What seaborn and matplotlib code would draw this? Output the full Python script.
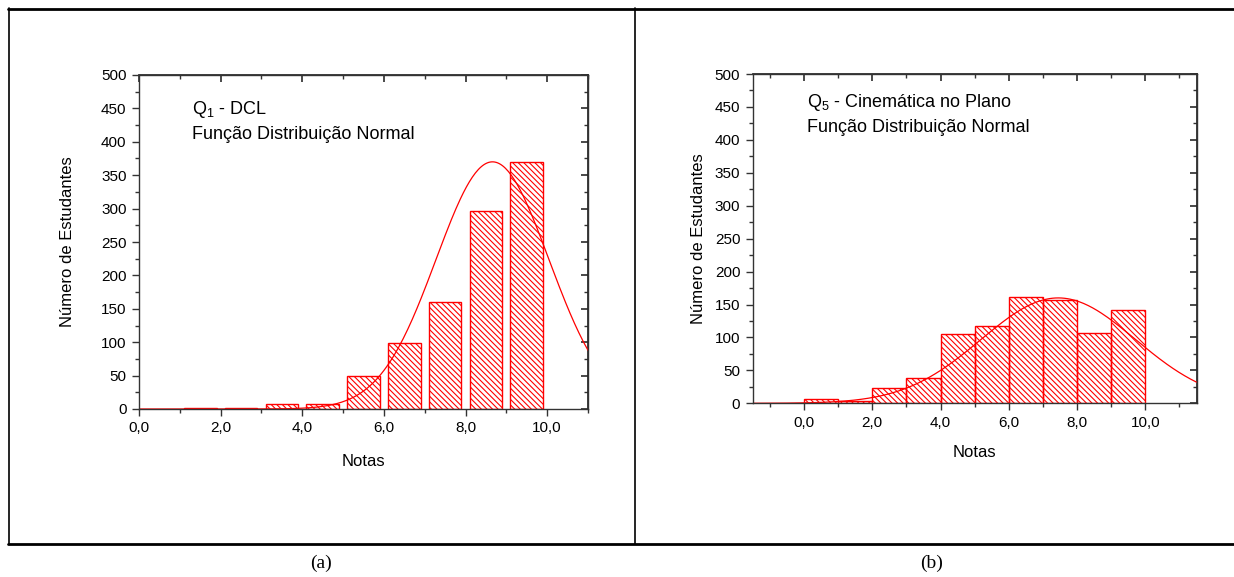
import numpy as np
import matplotlib
matplotlib.use("Agg")
import matplotlib.pyplot as plt
import seaborn as sns
from matplotlib.lines import Line2D
from matplotlib.ticker import MultipleLocator, FuncFormatter

# Estilo
sns.set_theme(style="white")
plt.rcParams['font.family'] = ['Liberation Sans', 'DejaVu Sans']
plt.rcParams['mathtext.fontset'] = 'custom'
plt.rcParams['mathtext.rm'] = 'Liberation Sans'
plt.rcParams['hatch.linewidth'] = 0.8
plt.rcParams['text.color'] = 'black'
plt.rcParams['axes.labelcolor'] = 'black'
plt.rcParams['xtick.color'] = 'black'
plt.rcParams['ytick.color'] = 'black'

# Dados (a) Q1 - DCL
notas_q1 = [1.5, 2.5, 3.5, 4.5, 5.5, 6.5, 7.5, 8.5, 9.5]
alunos_q1 = [1, 1, 7, 7, 49, 99, 160, 296, 370]
bins_q1 = [1, 2, 3, 4, 5, 6, 7, 8, 9, 10]
normal_q1 = {'media': 8.66, 'desvio': 1.38, 'pico': 370}

# Dados (b) Q5 - Cinemática no Plano
notas_q5 = [0.5, 1.5, 2.5, 3.5, 4.5, 5.5, 6.5, 7.5, 8.5, 9.5]
alunos_q5 = [6, 4, 23, 39, 105, 118, 161, 157, 106, 142]
bins_q5 = [0, 1, 2, 3, 4, 5, 6, 7, 8, 9, 10]
normal_q5 = {'media': 7.45, 'desvio': 2.26, 'pico': 160}

W, H = 1234, 577
fig = plt.figure(figsize=(W / 100, H / 100), dpi=100)


def rect(l, t, r, b):
    return [l / W, 1 - b / H, (r - l) / W, (b - t) / H]


def virgula(v, p):
    return f"{v:.1f}".replace('.', ',')


def painel(ax, notas, alunos, bins, normal, xlim, encolher, titulo, txt_x, txt_y, xpad, ypad):
    sns.histplot(x=notas, weights=alunos, bins=bins, shrink=encolher, ax=ax,
                 color='red', fill=False, linewidth=1.0, element='bars')
    for p in ax.patches:
        p.set_hatch('\\' * 6)
        p.set_edgecolor('#ff0000')
    xs = np.linspace(xlim[0], xlim[1], 300)
    ys = normal['pico'] * np.exp(-(xs - normal['media']) ** 2 / (2 * normal['desvio'] ** 2))
    sns.lineplot(x=xs, y=ys, ax=ax, color='#ff0000', linewidth=0.9)
    ax.set_xlim(*xlim)
    ax.set_ylim(0, 500)
    ax.xaxis.set_major_locator(MultipleLocator(2))
    ax.xaxis.set_minor_locator(MultipleLocator(1))
    ax.yaxis.set_major_locator(MultipleLocator(50))
    ax.yaxis.set_minor_locator(MultipleLocator(25))
    ax.xaxis.set_major_formatter(FuncFormatter(virgula))
    ax.tick_params(which='both', direction='out', top=False, right=False,
                   bottom=True, left=True, labelsize=11, color='#333333')
    ax.tick_params(which='major', length=5, width=1, pad=4)
    ax.tick_params(which='minor', length=3, width=1)
    for s in ax.spines.values():
        s.set_color('#333333')
        s.set_linewidth(1.0)
    topo = ax.secondary_xaxis('top')
    topo.xaxis.set_major_locator(MultipleLocator(2))
    topo.xaxis.set_minor_locator(MultipleLocator(1))
    topo.tick_params(which='both', direction='in', labeltop=False, color='#333333')
    topo.tick_params(which='major', length=5)
    topo.tick_params(which='minor', length=3)
    dir_ = ax.secondary_yaxis('right')
    dir_.yaxis.set_major_locator(MultipleLocator(50))
    dir_.yaxis.set_minor_locator(MultipleLocator(25))
    dir_.tick_params(which='both', direction='in', labelright=False, color='#333333')
    dir_.tick_params(which='major', length=5)
    dir_.tick_params(which='minor', length=3)
    ax.set_xlabel('Notas', fontsize=12, labelpad=xpad)
    ax.set_ylabel('Número de Estudantes', fontsize=12, labelpad=ypad)
    ax.text(txt_x, txt_y[0], titulo, transform=ax.transAxes,
            fontsize=13, va='baseline', ha='left')
    ax.text(txt_x, txt_y[1], 'Função Distribuição Normal',
            transform=ax.transAxes, fontsize=13, va='baseline', ha='left')


ax1 = fig.add_axes(rect(139, 75, 588, 409))
painel(ax1, notas_q1, alunos_q1, bins_q1, normal_q1, (0, 11), 0.8,
       'Q$_\\mathrm{1}$ - DCL', 0.118, (0.883, 0.808), 13, 19)

ax2 = fig.add_axes(rect(752.8, 74, 1196.5, 403.3))
painel(ax2, notas_q5, alunos_q5, bins_q5, normal_q5, (-1.5, 11.5), 1.0,
       'Q$_\\mathrm{5}$ - Cinemática no Plano', 0.122, (0.901, 0.825), 11, 6)

# Moldura da tabela
def linha(x0, y0, x1, y1, lw):
    fig.add_artist(Line2D([x0 / W, x1 / W], [1 - y0 / H, 1 - y1 / H],
                          color='black', linewidth=lw, transform=fig.transFigure))

linha(8, 8.5, 1234, 8.5, 2.0)
linha(8, 544, 1234, 544, 2.0)
linha(8.7, 8, 8.7, 544, 1.2)
linha(634.7, 8, 634.7, 544, 1.2)

fig.text(321 / W, 1 - 563 / H, '(a)', ha='center', va='center', fontsize=14,
         family=['Liberation Serif', 'DejaVu Serif'])
fig.text(932 / W, 1 - 563 / H, '(b)', ha='center', va='center', fontsize=14,
         family=['Liberation Serif', 'DejaVu Serif'])

fig.savefig('out.png', dpi=100)
